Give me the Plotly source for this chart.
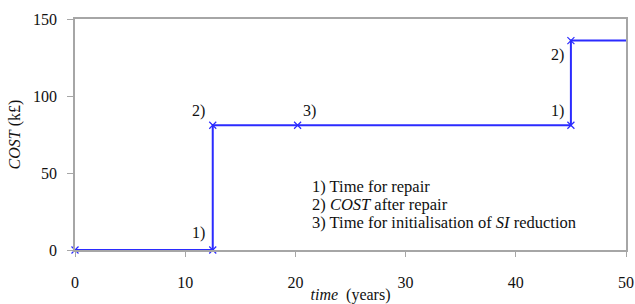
import plotly.graph_objects as go

# data
step_x = [0, 12.5, 12.5, 45, 45, 50]
step_y = [0, 0, 81, 81, 136, 136]
marker_x = [0, 12.5, 12.5, 20.2, 45, 45]
marker_y = [0, 0, 81, 81, 81, 136]
point_labels = ["", "1)", "2)", "3)", "1)", "2)"]
x_ticks = [0, 10, 20, 30, 40, 50]
y_ticks = [0, 50, 100, 150]
legend_lines = ["1) Time for repair", "2) <i>COST</i> after repair",
                "3) Time for initialisation of <i>SI</i> reduction"]

BLUE = "#2b2bff"
GREY = "#a6a6a6"
FONT = "Liberation Serif"

W, H = 635, 304
L, R, T, B = 75, 9, 19, 54
pw, ph = W - L - R, H - T - B

fig = go.Figure()
fig.add_trace(go.Scatter(x=step_x, y=step_y, mode="lines",
                         line=dict(color=BLUE, width=2), cliponaxis=False,
                         showlegend=False))
fig.add_trace(go.Scatter(x=marker_x, y=marker_y, mode="markers",
                         marker=dict(symbol="x-thin", size=7,
                                     line=dict(color=BLUE, width=1.2)),
                         cliponaxis=False, showlegend=False))

offsets = [None, (-6, 17, "right"), (-6, 14, "right"), (3, 14, "left"),
           (-5, 14, "right"), (-5, -14, "right")]
for x, y, t, off in zip(marker_x, marker_y, point_labels, offsets):
    if not t:
        continue
    fig.add_annotation(x=x, y=y, xref="x", yref="y", text=t, showarrow=False,
                       xanchor=off[2], yanchor="middle", xshift=off[0], yshift=off[1],
                       font=dict(family=FONT, size=16, color="#111"))

for i, t in enumerate(legend_lines):
    px, py = 310, 186 + 18 * i
    fig.add_annotation(x=(px - L) / pw, y=(H - B - py) / ph, xref="paper", yref="paper",
                       text=t, showarrow=False, xanchor="left", yanchor="middle",
                       font=dict(family=FONT, size=16.5, color="#111"))

fig.update_layout(
    width=W, height=H, margin=dict(l=L, r=R, t=T, b=B, autoexpand=False),
    paper_bgcolor="white", plot_bgcolor="white",
    font=dict(family=FONT, size=16, color="#111"),
    xaxis=dict(range=[0, 50], tickvals=x_ticks, showgrid=False, zeroline=False,
               showline=True, linecolor=GREY, linewidth=1.5, mirror=True,
               ticks="outside", ticklen=5, tickcolor=GREY, tickwidth=1,
               ticklabelstandoff=12, automargin=False,
               title=dict(text="<i>time</i>  (years)", standoff=6,
                          font=dict(family=FONT, size=16))),
    yaxis=dict(range=[0, 150], tickvals=y_ticks, showgrid=False, zeroline=False,
               showline=True, linecolor=GREY, linewidth=1.5, mirror=True,
               ticks="outside", ticklen=6, tickcolor=GREY, tickwidth=1,
               ticklabelstandoff=7, automargin=False,
               title=dict(text="<i>COST</i> (k£)", standoff=8,
                          font=dict(family=FONT, size=16))),
)

fig.write_html("out.html",
               config={"displayModeBar": False},
               post_script="document.body.style.margin='0';"
                           "document.documentElement.style.overflow='hidden';"
                           "document.body.style.overflow='hidden';")
